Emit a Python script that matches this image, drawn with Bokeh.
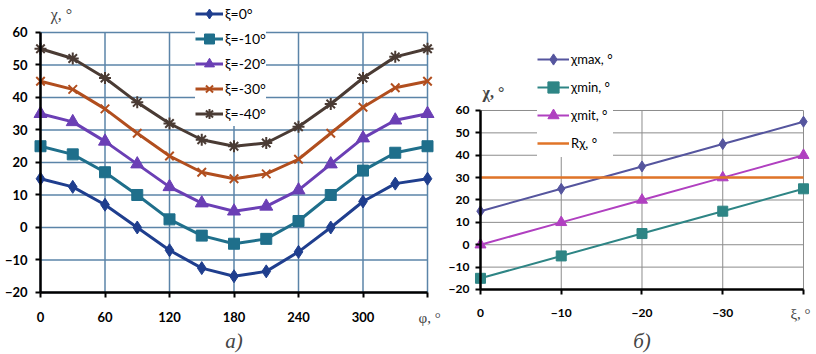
from bokeh.plotting import figure
from bokeh.models import Range1d, FixedTicker, Label
from bokeh.layouts import row
from bokeh.embed import file_html
from bokeh.resources import INLINE

# ---- data: chart a)
phi = [0, 30, 60, 90, 120, 150, 180, 210, 240, 270, 300, 330, 360]
chi_xi0 = [15, 12.5, 7, 0, -7, -12.5, -15, -13.5, -7.5, 0, 8, 13.5, 15]
chi_xi10 = [25, 22.5, 17, 10, 2.5, -2.5, -5, -3.5, 2, 10, 17.5, 23, 25]
chi_xi20 = [35, 32.5, 26.5, 19.5, 12.5, 7.5, 5, 6.5, 11.5, 19.5, 27.5, 33, 35]
chi_xi30 = [45, 42.5, 36.5, 29, 22, 17, 15, 16.5, 21, 29, 37, 43, 45]
chi_xi40 = [55, 52, 46, 38.5, 32, 27, 25, 26, 31, 38, 46, 52.5, 55]
labels_a = ["ξ=0°", "ξ=-10°", "ξ=-20°", "ξ=-30°", "ξ=-40°"]
yticks_a = [-20, -10, 0, 10, 20, 30, 40, 50, 60]
xticks_a = [0, 60, 120, 180, 240, 300, 360]

# ---- data: chart б)
xi = [0, -10, -20, -30, -40]
chi_max = [15, 25, 35, 45, 55]
chi_min = [-15, -5, 5, 15, 25]
chi_mit = [0, 10, 20, 30, 40]
r_chi = [30, 30, 30, 30, 30]
labels_b = ["χmax, °", "χmin, °", "χmit, °", "Rχ, °"]
xticks_b = [0, -10, -20, -30, -40]
yticks_b = [-20, -10, 0, 10, 20, 30, 40, 50, 60]

FONT = "Lato"
SERIF = "Liberation Serif"


def setup(p, xticks, yticks, grid_color, grid_width, label_size, x_standoff, y_standoff):
    x0, x1 = xticks[0], xticks[-1]
    y0, y1 = yticks[0], yticks[-1]
    # grid lines limited to the data rectangle, taken from the tick lists
    p.segment(x0=xticks, y0=[y0] * len(xticks), x1=xticks, y1=[y1] * len(xticks),
              line_color=grid_color, line_width=grid_width, level="underlay")
    p.segment(x0=[x0] * len(yticks), y0=yticks, x1=[x1] * len(yticks), y1=yticks,
              line_color=grid_color, line_width=grid_width, level="underlay")
    p.xgrid.visible = False
    p.ygrid.visible = False
    p.outline_line_color = None
    p.xaxis.fixed_location = y0
    p.yaxis.fixed_location = x0
    p.xaxis.bounds = (min(x0, x1), max(x0, x1))
    p.yaxis.bounds = (y0, y1)
    p.xaxis.ticker = FixedTicker(ticks=xticks)
    p.yaxis.ticker = FixedTicker(ticks=yticks)
    p.xaxis.major_label_overrides = {x1: ""}
    p.xaxis.major_label_standoff = x_standoff
    p.yaxis.major_label_standoff = y_standoff
    for ax in (p.xaxis[0], p.yaxis[0]):
        ax.axis_line_color = "black"
        ax.axis_line_width = 2.5
        ax.major_tick_line_color = "black"
        ax.major_tick_line_width = 2
        ax.major_tick_out = 5
        ax.major_tick_in = 0
        ax.minor_tick_line_color = None
        ax.major_label_text_font = FONT
        ax.major_label_text_font_style = "bold"
        ax.major_label_text_font_size = label_size
        ax.major_label_text_color = "black"


def style_legend(lg, loc, gw, gh, size):
    lg.location = loc
    lg.background_fill_color = "white"
    lg.background_fill_alpha = 1
    lg.border_line_color = None
    lg.padding = 5
    lg.margin = 0
    lg.spacing = 0
    lg.glyph_width = gw
    lg.glyph_height = gh
    lg.label_height = gh
    lg.label_standoff = 2
    lg.label_text_font = FONT
    lg.label_text_font_size = size
    lg.label_text_color = "black"


# ---------------- chart a)  (canvas x 0..444, y 0..354)
pa = figure(width=444, height=354,
            x_range=Range1d(-37.21, 375.81), y_range=Range1d(-39.077, 69.846),
            output_backend="svg", toolbar_location=None,
            min_border_left=0, min_border_right=0, min_border_top=0, min_border_bottom=0)
setup(pa, xticks_a, yticks_a, "#5B84A8", 1.5, "13px", 15, 8)

series_a = [chi_xi0, chi_xi10, chi_xi20, chi_xi30, chi_xi40]
colors_a = ["#1F3E8E", "#1F6F8B", "#6B3FB5", "#B14E1E", "#4A3B34"]
markers_a = ["diamond", "square", "triangle", "x", "asterisk"]
sizes_a = [13, 11, 13, 12, 12]
for ys, c, m, s, lab in zip(series_a, colors_a, markers_a, sizes_a, labels_a):
    pa.line(phi, ys, line_color=c, line_width=3, legend_label=lab)
    if m in ("x", "asterisk"):
        pa.scatter(phi, ys, marker=m, size=s, line_color=c, line_width=2, legend_label=lab)
    else:
        pa.scatter(phi, ys, marker=m, size=s, fill_color=c, line_color=c, legend_label=lab)
style_legend(pa.legend[0], (195, 228), 28, 25, "14px")

pa.add_layout(Label(x=19.5, y=65.6, text="χ, °", text_font=SERIF, text_font_size="16px",
                    text_baseline="middle", text_align="center"))
pa.add_layout(Label(x=362.0, y=-27.7, text="φ, °", text_font=SERIF, text_font_size="15px",
                    text_baseline="middle", text_align="center"))
pa.add_layout(Label(x=180, y=-34.8, text="a)", text_font=SERIF, text_font_size="21px",
                    text_font_style="italic", text_baseline="middle", text_align="center"))

# ---------------- chart б)  (canvas x 444..816, y 0..354)
pb = figure(width=372, height=354,
            x_range=Range1d(4.458, -41.61), y_range=Range1d(-49.05, 109.16),
            output_backend="svg", toolbar_location=None,
            min_border_left=0, min_border_right=0, min_border_top=0, min_border_bottom=0)
setup(pb, xticks_b, yticks_b, "#8C8C8C", 1, "12px", 15, 6)

pb.line(xi, chi_max, line_color="#55559E", line_width=2, legend_label=labels_b[0])
pb.scatter(xi, chi_max, marker="diamond", size=11, fill_color="#55559E", line_color="#55559E",
           legend_label=labels_b[0])
pb.line(xi, chi_min, line_color="#2E8585", line_width=2, legend_label=labels_b[1])
pb.scatter(xi, chi_min, marker="square", size=10, fill_color="#2E8585", line_color="#2E8585",
           legend_label=labels_b[1])
pb.line(xi, chi_mit, line_color="#B040C0", line_width=2, legend_label=labels_b[2])
pb.scatter(xi, chi_mit, marker="triangle", size=11, fill_color="#B040C0", line_color="#B040C0",
           legend_label=labels_b[2])
pb.line(xi, r_chi, line_color="#E07428", line_width=2.5, legend_label=labels_b[3])
style_legend(pb.legend[0], (93, 197), 32, 28, "13px")

pb.add_layout(Label(x=-0.25, y=68.0, text="χ, °", text_font=SERIF, text_font_size="16px",
                    text_font_style="bold", text_baseline="middle", text_align="left"))
pb.add_layout(Label(x=-39.63, y=-30.8, text="ξ, °", text_font=SERIF, text_font_size="15px",
                    text_baseline="middle", text_align="center"))
pb.add_layout(Label(x=-20, y=-42.8, text="б)", text_font=SERIF, text_font_size="21px",
                    text_font_style="italic", text_baseline="middle", text_align="center"))

layout = row(pa, pb)
open("out.html", "w").write(file_html(layout, INLINE))
